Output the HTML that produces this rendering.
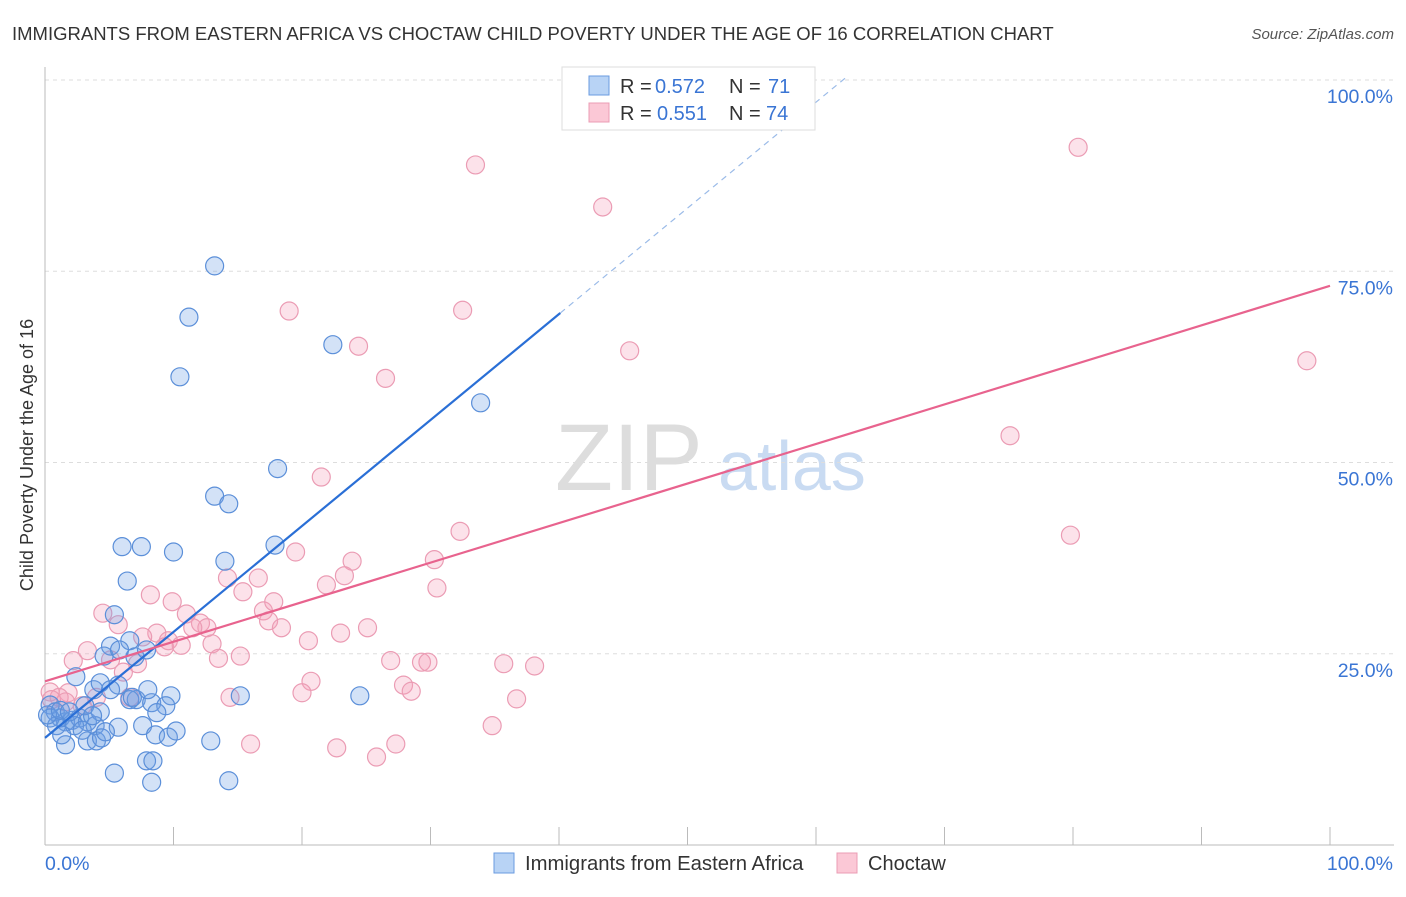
<!DOCTYPE html>
<html><head><meta charset="utf-8"><style>
body{margin:0;background:#fff;font-family:"Liberation Sans",sans-serif;}
svg text{font-family:"Liberation Sans",sans-serif;}
</style></head><body>
<svg id="chart" width="1406" height="892">
<text x="12" y="40" font-size="18.5" fill="#333">IMMIGRANTS FROM EASTERN AFRICA VS CHOCTAW CHILD POVERTY UNDER THE AGE OF 16 CORRELATION CHART</text>
<text x="1394" y="39" font-size="15" fill="#555" text-anchor="end" font-style="italic">Source: ZipAtlas.com</text>
<text x="33" y="455" font-size="18" fill="#333" text-anchor="middle" transform="rotate(-90 33 455)">Child Poverty Under the Age of 16</text>
<g><text x="555" y="490" font-size="95" fill="#ddd" font-family="Liberation Serif">ZIP</text><text x="718" y="490" font-size="70" fill="#c9dbf2">atlas</text></g>
<g id="grid"></g><g id="marks"></g><g id="lines"></g>
<g>
<rect x="562" y="67" width="253" height="63" fill="#fff" stroke="#ddd"/>
<rect x="589" y="76" width="20" height="19" fill="#b8d3f5" stroke="#6a9be0"/>
<rect x="589" y="103" width="20" height="19" fill="#fbc8d6" stroke="#eb9cb4"/>
<text x="620" y="93" font-size="20" fill="#333">R =</text><text x="655" y="93" font-size="20" fill="#3a75d4">0.572</text>
<text x="729" y="93" font-size="20" fill="#333">N =</text><text x="768" y="93" font-size="20" fill="#3a75d4">71</text>
<text x="620" y="120" font-size="20" fill="#333">R =</text><text x="657" y="120" font-size="20" fill="#3a75d4">0.551</text>
<text x="729" y="120" font-size="20" fill="#333">N =</text><text x="766" y="120" font-size="20" fill="#3a75d4">74</text>
</g>
<g>
<rect x="494" y="853" width="20" height="20" fill="#b8d3f5" stroke="#6a9be0"/>
<text x="525" y="870" font-size="20.3" fill="#333">Immigrants from Eastern Africa</text>
<rect x="837" y="853" width="20" height="20" fill="#fbc8d6" stroke="#eb9cb4"/>
<text x="868" y="870" font-size="20" fill="#333">Choctaw</text>
</g>
</svg>
<script>
const blueX=[13.2,11.2,10.5,22.4,33.9,18.1,13.2,14.3,6.0,7.5,10.0,17.9,14.0,6.4,5.4,6.6,5.1,4.6,7.0,7.9,2.4,3.8,5.7,4.3,9.8,15.2,24.5,7.1,8.3,9.4,6.6,8.7,0.4,0.8,1.2,1.6,2.1,2.7,3.3,3.9,3.1,4.3,5.7,7.6,8.6,9.6,10.2,12.9,1.6,3.3,4.0,4.4,5.4,7.9,8.4,8.3,14.3,0.4,0.9,2.3,0.2,1.3,4.7,1.2,1.9,2.9,3.7,5.1,8.0,6.8,5.8];
const blueY=[75.7,69.0,61.2,65.4,57.8,49.2,45.6,44.6,39.0,39.0,38.3,39.2,37.1,34.5,30.1,26.7,26.0,24.7,24.6,25.5,22.0,20.3,20.9,21.2,19.5,19.5,19.5,19.0,18.6,18.2,19.0,17.3,18.3,17.4,16.6,16.1,16.3,16.6,16.1,15.6,18.2,17.4,15.4,15.6,14.4,14.1,14.9,13.6,13.1,13.6,13.6,14.0,9.4,11.0,11.0,8.2,8.4,16.6,15.6,15.6,17.0,14.4,14.8,17.6,17.4,15.0,16.9,20.3,20.3,19.3,25.5];
const pinkX=[33.5,43.4,80.4,19.0,32.5,24.4,45.5,26.5,98.2,75.1,21.5,32.3,79.8,19.5,23.9,30.3,14.2,16.6,23.3,21.9,15.4,30.5,8.2,9.9,11.0,17.0,17.8,4.5,5.7,17.4,12.1,12.6,18.4,11.5,25.1,23.0,20.5,8.7,7.6,9.6,9.3,10.6,13.0,15.2,3.3,2.2,5.1,7.2,13.5,26.9,29.3,29.8,35.7,38.1,6.1,20.7,27.9,28.5,20.0,14.4,36.7,4.0,1.8,0.4,1.1,2.9,6.6,34.8,16.0,22.7,27.3,25.8,0.5,1.6];
const pinkY=[88.9,83.4,91.2,69.8,69.9,65.2,64.6,61.0,63.3,53.5,48.1,41.0,40.5,38.3,37.1,37.3,34.9,34.9,35.2,34.0,33.1,33.6,32.7,31.8,30.2,30.6,31.8,30.3,28.8,29.3,29.0,28.4,28.4,28.4,28.4,27.7,26.7,27.7,27.2,26.7,25.9,26.1,26.3,24.7,25.4,24.1,24.2,23.7,24.4,24.1,23.9,23.9,23.7,23.4,22.6,21.4,20.9,20.1,19.9,19.3,19.1,19.3,19.9,20.0,19.3,18.2,19.3,15.6,13.2,12.7,13.2,11.5,19.0,18.7];
const yTicks=[25,50,75,100];
const xTickVals=[0,10,20,30,40,50,60,70,80,90,100];
const blueFit=[14.0,1.385];
const pinkFit=[21.4,0.517];
const NS='http://www.w3.org/2000/svg';
const sx=v=>45+v*12.85, sy=v=>845-v*7.65;
function mk(tag,attrs,parent){const e=document.createElementNS(NS,tag);for(const k in attrs)e.setAttribute(k,attrs[k]);parent.appendChild(e);return e;}
const grid=document.getElementById('grid'),marks=document.getElementById('marks'),lines=document.getElementById('lines');
yTicks.forEach(t=>{
 const g=mk('line',{x1:45,x2:1394,y1:sy(t),y2:sy(t),stroke:'#ddd','stroke-dasharray':'4 4'},grid);
 
 
 const l=mk('text',{x:1393,y:sy(t)+23,'font-size':19.5,fill:'#3a75d4','text-anchor':'end'},grid);
 l.textContent=t.toFixed(1)+'%';
 
 
});
const ax=mk('line',{x1:45,x2:1394,y1:845,y2:845,stroke:'#bbb'},grid);


const ay=mk('line',{x1:45,x2:45,y1:67,y2:845,stroke:'#bbb'},grid);


xTickVals.forEach(t=>{
 const k=mk('line',{x1:sx(t),x2:sx(t),y1:827,y2:845,stroke:'#bbb'},grid);
 
 
});
[[0,45,'start'],[100,1393,'end']].forEach(([v,x,a])=>{
 const l=mk('text',{x:x,y:870,'font-size':19.5,fill:'#3a75d4','text-anchor':a},grid);
 l.textContent=v.toFixed(1)+'%';
 
 
});
function dots(X,Y,fill,stroke,name){X.forEach((x,i)=>{
 const c=mk('circle',{cx:sx(x),cy:sy(Y[i]),r:9,fill:fill,stroke:stroke,'stroke-width':1.2},marks);
 
 
});}
dots(pinkX,pinkY,'rgba(245,160,185,0.3)','#eb9cb4','choctaw-point');
dots(blueX,blueY,'rgba(110,160,230,0.3)','#5b8fd9','eastern-africa-point');
const bEnd=40.1, bDash=62.3;
const bl=mk('line',{x1:sx(0),y1:sy(blueFit[0]),x2:sx(bEnd),y2:sy(blueFit[0]+blueFit[1]*bEnd),stroke:'#2a6fd6','stroke-width':2.2},lines);


const bd=mk('line',{x1:sx(bEnd),y1:sy(blueFit[0]+blueFit[1]*bEnd),x2:sx(bDash),y2:sy(blueFit[0]+blueFit[1]*bDash),stroke:'#9bbbe8','stroke-width':1.2,'stroke-dasharray':'6 5'},lines);


const pl=mk('line',{x1:sx(0),y1:sy(pinkFit[0]),x2:sx(100),y2:sy(pinkFit[0]+pinkFit[1]*100),stroke:'#e8638e','stroke-width':2.2},lines);


</script>
</body></html>
